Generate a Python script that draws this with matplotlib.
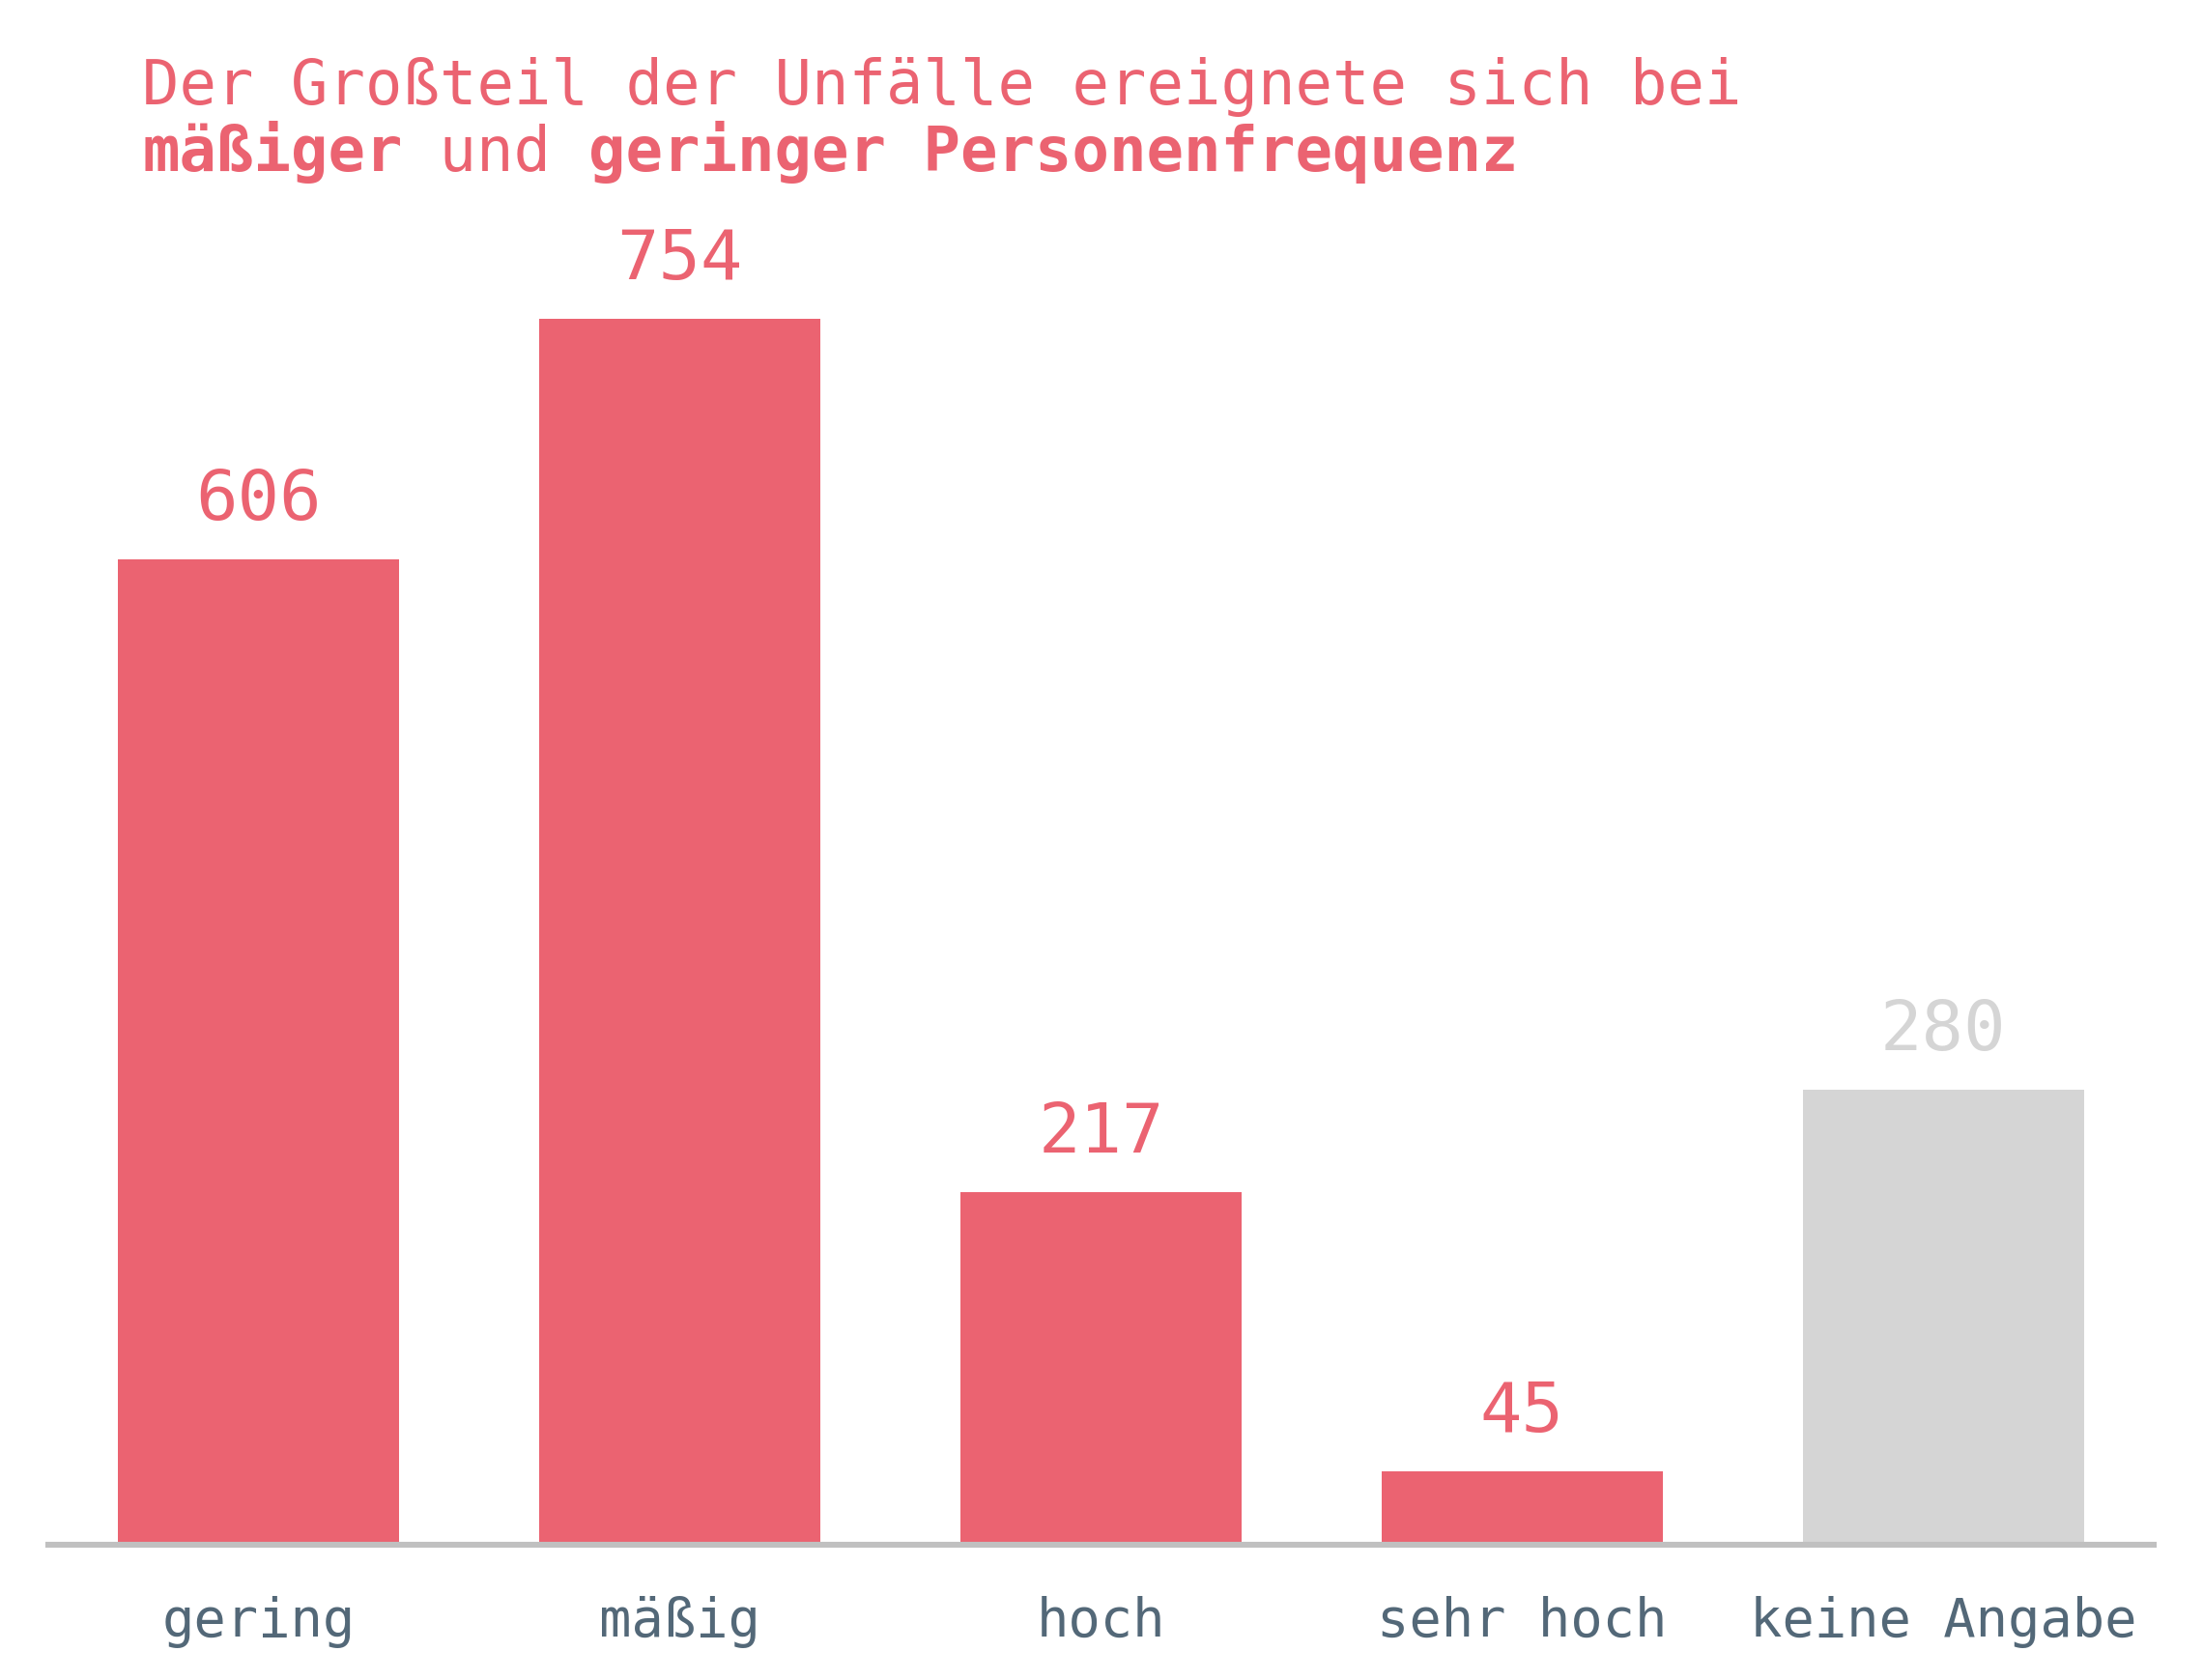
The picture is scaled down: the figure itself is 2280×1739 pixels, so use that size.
import matplotlib
matplotlib.use("Agg")
import matplotlib.pyplot as plt

categories = ["gering", "mäßig", "hoch", "sehr hoch", "keine Angabe"]
values = [606, 754, 217, 45, 280]
highlight = [True, True, True, True, False]

RED = "#EB6371"
GRAY = "#D5D5D5"
TICK = "#536878"
AXIS = "#C0C0C0"
FONT = "DejaVu Sans Mono"

W, H, DPI = 2280, 1739, 200
fig = plt.figure(figsize=(W / DPI, H / DPI), dpi=DPI)
fig.patch.set_facecolor("white")

ax = fig.add_axes([50 / W, (H - 1599) / H, 2179 / W, 1346 / H])
x = list(range(len(categories)))
colors = [RED if h else GRAY for h in highlight]
bars = ax.bar(x, values, width=0.668, color=colors, zorder=1)
ax.set_xlim(-0.5, len(categories) - 0.5)
ax.set_ylim(0, 800)

for b, v, c in zip(bars, values, colors):
    ax.annotate(str(v), xy=(b.get_x() + b.get_width() / 2, v),
                xytext=(0, 14.8), textcoords="offset points",
                ha="center", va="baseline", fontsize=26, color=c,
                family=FONT)

for s in ["top", "right", "left"]:
    ax.spines[s].set_visible(False)
ax.spines["bottom"].set_color(AXIS)
ax.spines["bottom"].set_linewidth(2.2)
ax.spines["bottom"].set_zorder(3)
ax.set_yticks([])
ax.set_xticks(x)
ax.set_xticklabels(categories, family=FONT, fontsize=20, color=TICK)
ax.tick_params(axis="x", length=0, pad=19)

# Title (two lines, second with mixed weights)
title_size = 23
adv = 0.602 * title_size * DPI / 72 / W  # monospace advance in figure fraction
x0 = 147 / W
fig.text(x0, 1 - 108 / H, "Der Großteil der Unfälle ereignete sich bei",
         family=FONT, fontsize=title_size, color=RED, va="baseline", ha="left")
parts = [("mäßiger", "bold"), (" und ", "normal"), ("geringer Personenfrequenz", "bold")]
pos = 0
for txt, wt in parts:
    fig.text(x0 + pos * adv, 1 - 177 / H, txt, family=FONT, fontsize=title_size,
             color=RED, fontweight=wt, va="baseline", ha="left")
    pos += len(txt)

fig.savefig("out.png", dpi=DPI, facecolor="white")
